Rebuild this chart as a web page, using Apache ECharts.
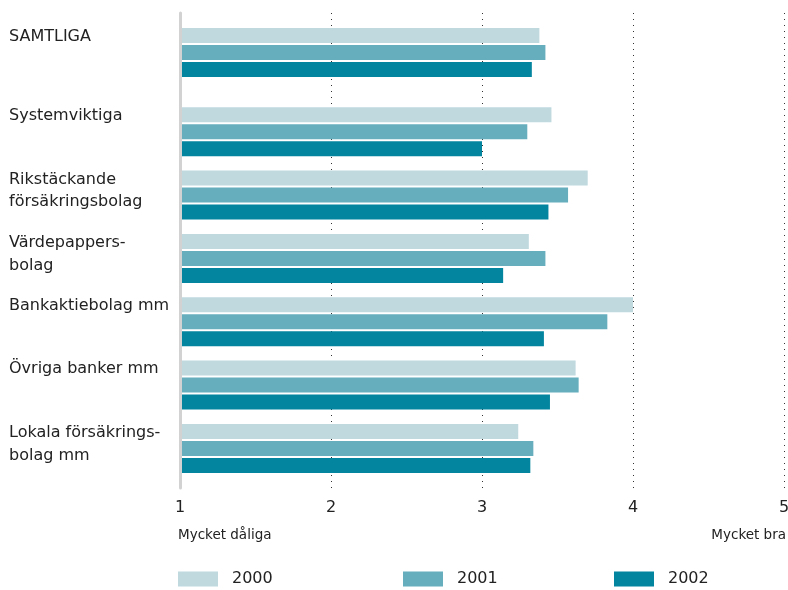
<!DOCTYPE html>
<html><head><meta charset="utf-8">
<script src="https://cdn.jsdelivr.net/npm/echarts@6/dist/echarts.min.js"></script>
<style>html,body{margin:0;padding:0;background:#fff}#c{width:788px;height:590px}</style>
</head><body><div id="c"></div>
<script>
// ---- data ----
const categories = ['SAMTLIGA', 'Systemviktiga', 'Rikstäckande\nförsäkringsbolag', 'Värdepappers-\nbolag', 'Bankaktiebolag mm', 'Övriga banker mm', 'Lokala försäkrings-\nbolag mm'];
const years = ['2000', '2001', '2002'];
const v2000 = [3.38, 3.46, 3.70, 3.31, 4.00, 3.62, 3.24];
const v2001 = [3.42, 3.30, 3.57, 3.42, 3.83, 3.64, 3.34];
const v2002 = [3.33, 3.00, 3.44, 3.14, 3.41, 3.45, 3.32];
const xTicks = ['1', '2', '3', '4', '5'];
const scaleEnds = ['Mycket dåliga', 'Mycket bra'];

// ---- layout (not data) ----
const slotCount = 30;
const groupSlots = [2, 7, 11, 15, 19, 23, 27];
const colors = ['#BFD9DF', '#66AEBD', '#03849F'];
const FONT = 'DejaVu Sans';

const slotNames = Array.from({length: slotCount}, (_, i) => 'slot' + i);
function toSlots(vals) {
  const arr = new Array(slotCount).fill('-');
  groupSlots.forEach((s, i) => { arr[s] = vals[i]; });
  return arr;
}
const labelBySlot = {};
groupSlots.forEach((s, i) => { labelBySlot['slot' + s] = categories[i]; });

const seriesVals = [v2000, v2001, v2002];

const chart = echarts.init(document.getElementById('c'), null, {renderer: 'canvas'});
chart.setOption({
  animation: false,
  backgroundColor: '#fff',
  grid: {left: 180, right: 4, top: 13, bottom: 102, containLabel: false, outerBoundsMode: 'none'},
  xAxis: {
    type: 'value', min: 1, max: 5, interval: 1,
    axisLine: {show: false}, axisTick: {show: false},
    splitLine: {show: true, lineStyle: {type: [1, 5], color: '#333', width: 1}},
    axisLabel: {fontSize: 16, color: '#222', fontFamily: FONT, margin: 12,
      formatter: v => xTicks[Math.round(v) - 1] || ''}
  },
  yAxis: {
    type: 'category', inverse: true, data: slotNames,
    axisLine: {show: true, lineStyle: {color: '#d2d2d2', width: 3}},
    axisTick: {show: false}, splitLine: {show: false},
    z: 5,
    axisLabel: {
      interval: 0, align: 'left', margin: 171,
      formatter: function (v) {
        const t = labelBySlot[v];
        if (!t) return '';
        const lines = t.split('\n');
        const body = lines.map(l => '{a|' + l + '}').join('\n');
        return body + '\n' + (lines.length === 1 ? '{s1| }' : '{s2| }');
      },
      rich: {
        a: {fontSize: 16, lineHeight: 22.5, color: '#222', fontFamily: FONT, align: 'left'},
        s1: {fontSize: 1, lineHeight: 32},
        s2: {fontSize: 1, lineHeight: 8}
      }
    }
  },
  legend: years.map((y, i) => ({
    data: [y], left: [173, 398, 609][i], top: 566,
    itemWidth: 40, itemHeight: 15, icon: 'rect', selectedMode: false,
    textStyle: {fontSize: 16, color: '#222', fontFamily: FONT, padding: [0, 0, 0, 9]}
  })),
  graphic: [
    {type: 'text', left: 178, top: 528, style: {text: scaleEnds[0], fontSize: 13.5, fill: '#222', fontFamily: FONT}},
    {type: 'text', right: 2, top: 528, style: {text: scaleEnds[1], fontSize: 13.5, fill: '#222', fontFamily: FONT}}
  ],
  series: years.map((y, i) => ({
    name: y, type: 'bar', data: toSlots(seriesVals[i]),
    barWidth: 15, barGap: '13.33%',
    itemStyle: {color: colors[i]},
    z: 2
  }))
});
</script>
</body></html>
